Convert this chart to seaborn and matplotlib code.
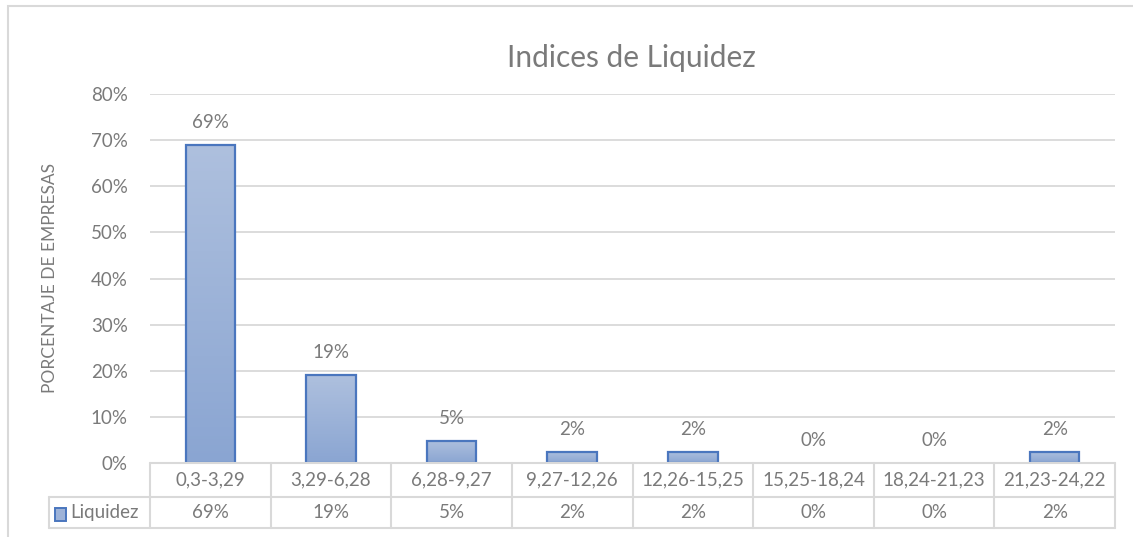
import numpy as np
import pandas as pd
import matplotlib
matplotlib.use("Agg")
import matplotlib.pyplot as plt
import seaborn as sns
from matplotlib.patches import Rectangle
from matplotlib.transforms import blended_transform_factory

# Data (percent of companies per liquidity range)
rangos = ["0,3-3,29", "3,29-6,28", "6,28-9,27", "9,27-12,26",
          "12,26-15,25", "15,25-18,24", "18,24-21,23", "21,23-24,22"]
liquidez = [69.0, 19.0, 4.8, 2.4, 2.4, 0.0, 0.0, 2.4]
etiquetas = ["69%", "19%", "5%", "2%", "2%", "0%", "0%", "2%"]
yticks = [0, 10, 20, 30, 40, 50, 60, 70, 80]

df = pd.DataFrame({"rango": rangos, "valor": liquidez})

sns.set_theme(style="white")
plt.rcParams["font.family"] = ["Lato", "DejaVu Sans"]

TXT = "#7A7A7A"
GRID = "#D9D9D9"
EDGE = "#4A76BE"
TOP_C = np.array([0xAE, 0xC0, 0xDE]) / 255
BOT_C = np.array([0x8A, 0xA5, 0xD2]) / 255

W, H = 1133, 537
fig = plt.figure(figsize=(W / 100, H / 100), dpi=100)
ax = fig.add_axes([150 / W, 1 - 463 / H, (1115 - 150) / W, (463 - 94) / H])

sns.barplot(data=df, x="rango", y="valor", ax=ax, width=0.41,
            color="#9EB3D8", edgecolor=EDGE, linewidth=1.6, zorder=3)

# gradient fill clipped to each bar
grad = np.linspace(0, 1, 256)[:, None, None]
img = TOP_C * (1 - grad) + BOT_C * grad
for p in ax.patches:
    h = p.get_height()
    if h <= 0:
        p.set_visible(False)
        continue
    x0 = p.get_x()
    im = ax.imshow(img, extent=[x0, x0 + p.get_width(), 0, h], aspect="auto",
                   origin="upper", zorder=3.5)
    im.set_clip_path(p)
    p.set_facecolor("none")
    p.set_zorder(4)

ax.set_xlim(-0.5, len(rangos) - 0.5)
ax.set_ylim(0, 80)
ax.set_yticks(yticks)
ax.set_yticklabels([f"{t}%" for t in yticks], color=TXT, fontsize=13.5)
ax.tick_params(axis="y", length=0, pad=16)
ax.set_xticks([])
ax.set_xlabel("")
ax.set_ylabel("")
ax.yaxis.grid(True, color=GRID, linewidth=1.3, zorder=0)
for s in ax.spines.values():
    s.set_visible(False)

for i, (v, lab) in enumerate(zip(liquidez, etiquetas)):
    ax.annotate(lab, (i, v), xytext=(0, 10), textcoords="offset points",
                ha="center", va="bottom", color=TXT, fontsize=13.5)

fig.text(631 / W, 1 - 58 / H, "Indices de Liquidez", ha="center", va="center",
         color=TXT, fontsize=21.5)
fig.text(50 / W, 1 - 278 / H, "PORCENTAJE DE EMPRESAS", rotation=90,
         ha="center", va="center", color=TXT, fontsize=12.5)

# data table under the chart
tr = blended_transform_factory(ax.transData, fig.transFigure)
y0, y1, y2 = 1 - 463 / H, 1 - 497 / H, 1 - 528 / H
xl, xr = -0.5, len(rangos) - 0.5
x_leg = -0.5 - (150 - 49) / ((1115 - 150) / len(rangos))
line_kw = dict(color=GRID, linewidth=1.5, clip_on=False, transform=tr, zorder=5)
ax.plot([xl, xr], [y0, y0], **line_kw)
ax.plot([x_leg, xr], [y1, y1], **line_kw)
ax.plot([x_leg, xr], [y2, y2], **line_kw)
ax.plot([x_leg, x_leg], [y1, y2], **line_kw)
for k in range(len(rangos) + 1):
    ax.plot([k - 0.5, k - 0.5], [y0, y2], **line_kw)
for i, (r, lab) in enumerate(zip(rangos, etiquetas)):
    ax.text(i, (y0 + y1) / 2, r, transform=tr, ha="center", va="center",
            color=TXT, fontsize=13.5)
    ax.text(i, (y1 + y2) / 2, lab, transform=tr, ha="center", va="center",
            color=TXT, fontsize=13.5)

# legend key inside the table
fig.patches.append(Rectangle((55 / W, 1 - 521 / H), 11 / W, 13 / H,
                             transform=fig.transFigure, facecolor="#9EB3D8",
                             edgecolor=EDGE, linewidth=1.4))
fig.text(70 / W, (y1 + y2) / 2, "Liquidez", ha="left", va="center",
         color=TXT, fontsize=13.5)

# outer chart frame
fig.patches.append(Rectangle((8 / W, -0.2), 1.5, 1.2 - 6 / H,
                             transform=fig.transFigure, facecolor="none",
                             edgecolor=GRID, linewidth=1.5))

fig.savefig("out.png", dpi=100)
